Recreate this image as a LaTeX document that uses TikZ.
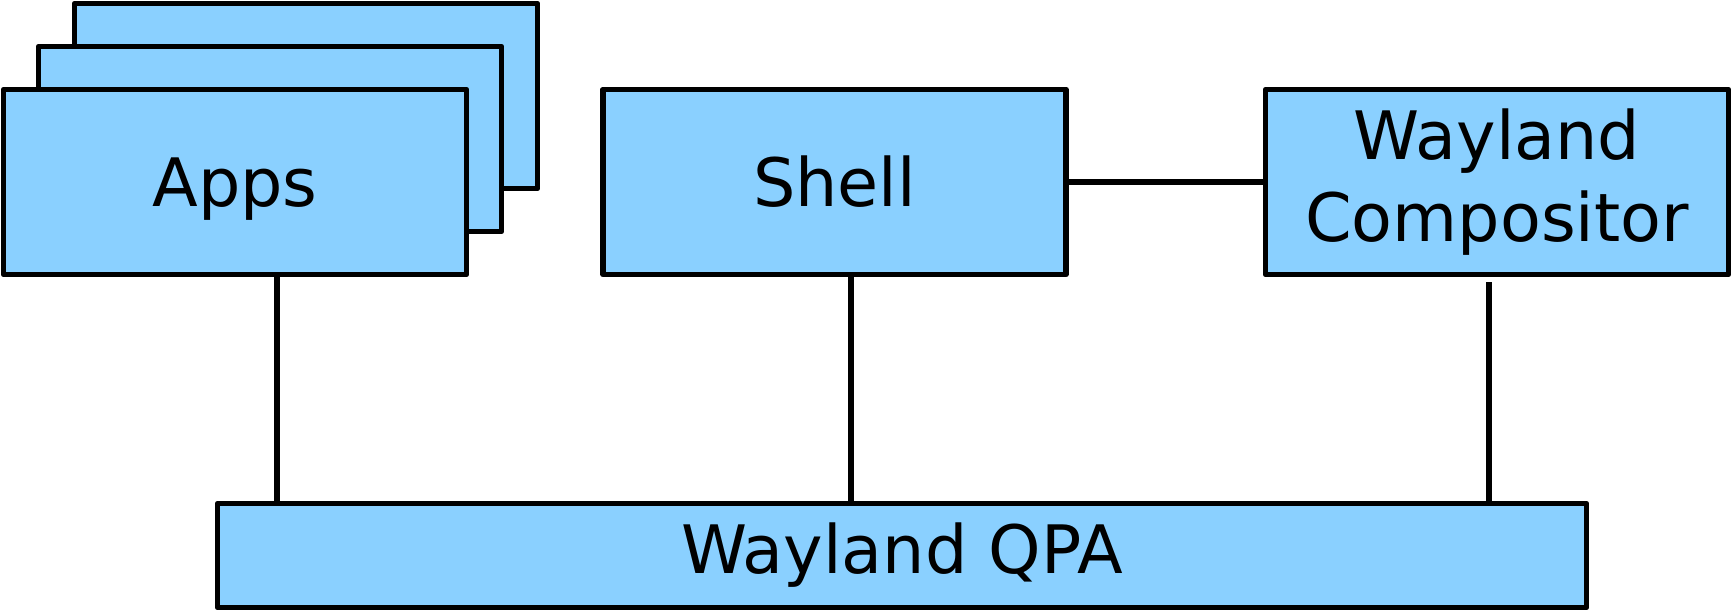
\documentclass[tikz,border=0pt]{standalone}
\usepackage{fontspec}
\setmainfont{DejaVu Sans}
\usepackage{xcolor}
\usepackage{tikz}
\definecolor{boxfill}{HTML}{8AD0FF}
\tikzset{
  layer/.style={draw=black, fill=boxfill, line width=1.6pt, line join=round,
    minimum width=46.3mm, minimum height=18.5mm, inner sep=0pt,
    font=\fontsize{19}{23.5}\selectfont, align=center},
  link/.style={line width=1.6pt, draw=black}
}
\begin{document}
\begin{tikzpicture}
\useasboundingbox (0,0) rectangle (17.33,6.13);
% stacked app windows
\node[layer] (appsback) at (3.06,5.17) {};
\node[layer] (appsmid) at (2.70,4.74) {};
\node[layer, text depth=0pt] (apps) at (2.35,4.31) {Apps};
\node[layer] (shell) at (8.345,4.31) {Shell};
\node[layer] (comp) at (14.97,4.31) {Wayland\\Compositor};
\node[layer, minimum width=136.9mm, minimum height=10.4mm] (qpa) at (9.02,0.575) {Wayland QPA};

\draw[link] (shell.east) -- (comp.west);
\draw[link] ([xshift=4.2mm]apps.south) -- ([xshift=4.2mm]apps.south |- qpa.north);
\draw[link] ([xshift=1.65mm]shell.south) -- ([xshift=1.65mm]shell.south |- qpa.north);
\draw[link] ([xshift=-0.8mm,yshift=-0.5mm]comp.south) -- ([xshift=-0.8mm]comp.south |- qpa.north);
\end{tikzpicture}
\end{document}
